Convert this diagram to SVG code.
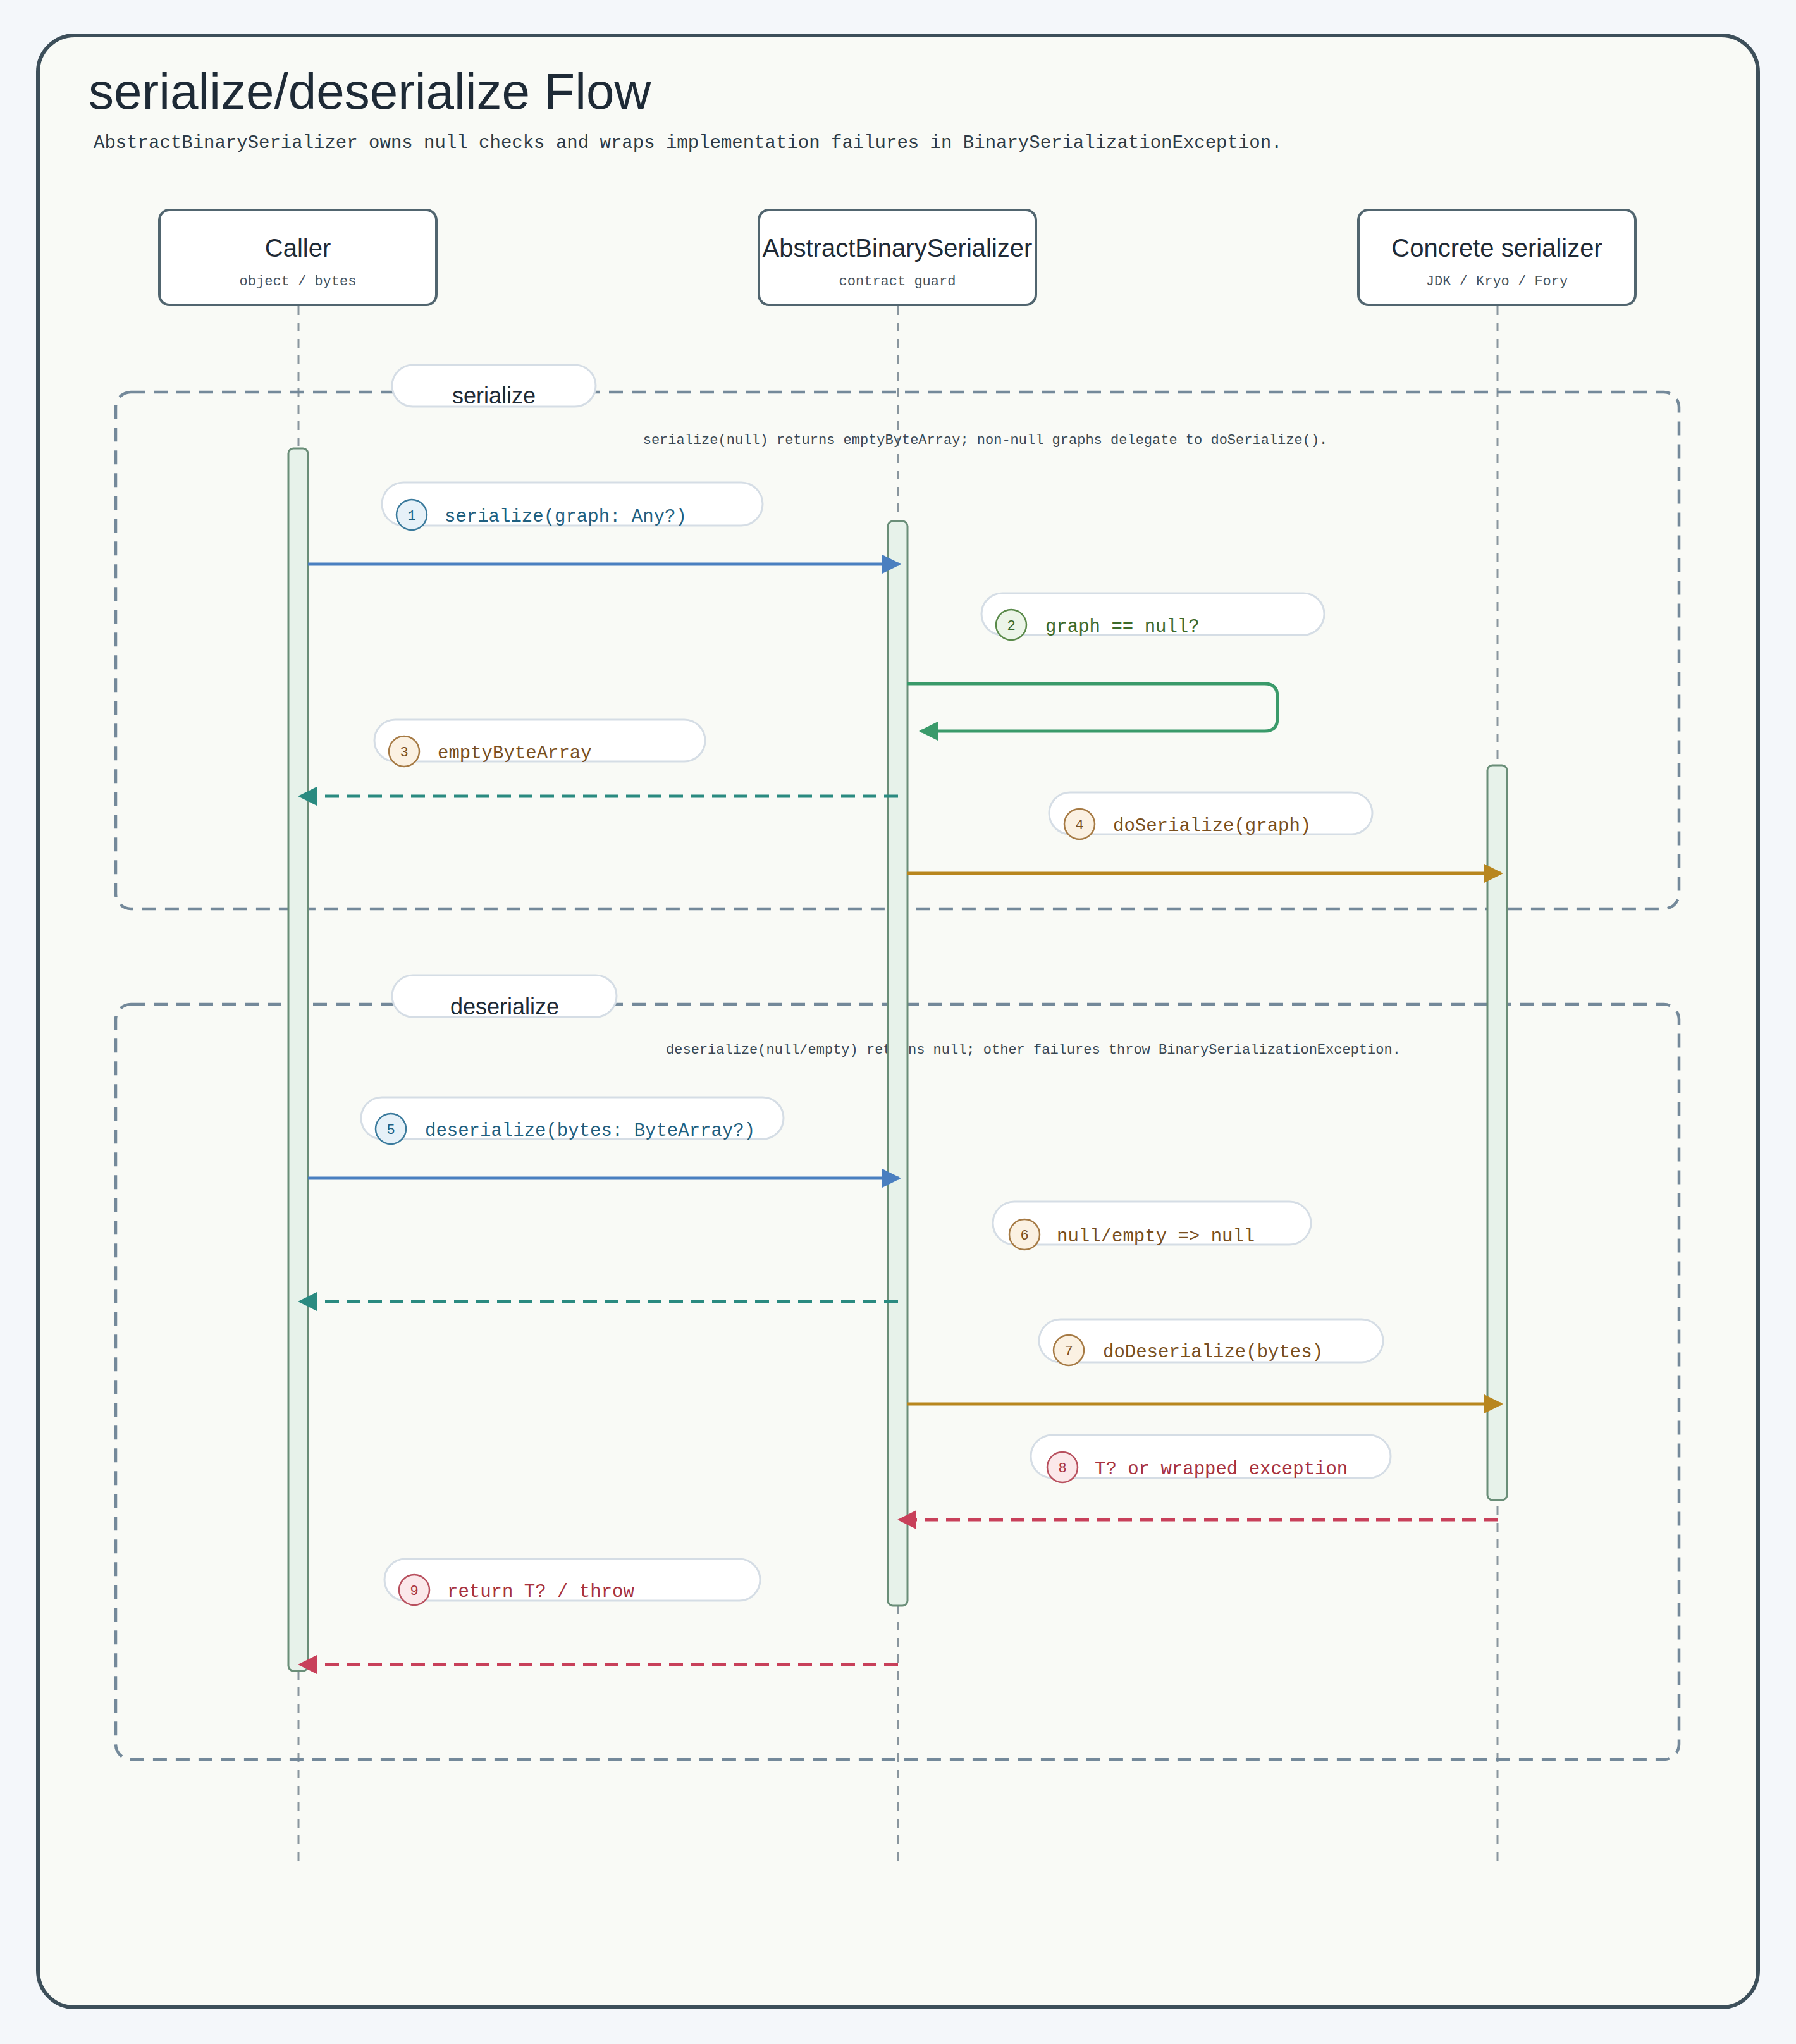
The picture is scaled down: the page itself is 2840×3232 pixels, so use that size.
<svg xmlns="http://www.w3.org/2000/svg" width="2840" height="3232" viewBox="0 0 2840 3232">
<style>
.t{font-family:"Liberation Sans",Arial,sans-serif;fill:#1e2a36}
.m{font-family:"Liberation Mono","DejaVu Sans Mono",monospace}
.box{fill:#fff;stroke:#51656f;stroke-width:4}
.life{stroke:#8a969e;stroke-width:3;stroke-dasharray:14 12}
.grp{fill:none;stroke:#74899a;stroke-width:4.5;stroke-dasharray:22 14}
.gpill{fill:#fff;stroke:#d5dde5;stroke-width:3}
.act{fill:#e7f2ea;stroke:#6a8e78;stroke-width:3}
.pill{fill:#fff;stroke:#d5dde5;stroke-width:3}
.lbl{font-size:29px}
.num{font-size:22px;text-anchor:middle}
.msg{fill:none;stroke-width:5}
.dash{stroke-dasharray:22 12}
</style>
<defs>
<marker id="ab" viewBox="0 0 10 10" refX="9" refY="5" markerWidth="6" markerHeight="6" markerUnits="strokeWidth" orient="auto"><path d="M0,0L10,5L0,10z" fill="#4a7fc0"/></marker>
<marker id="ag" viewBox="0 0 10 10" refX="9" refY="5" markerWidth="6" markerHeight="6" markerUnits="strokeWidth" orient="auto"><path d="M0,0L10,5L0,10z" fill="#3a9a6a"/></marker>
<marker id="at" viewBox="0 0 10 10" refX="9" refY="5" markerWidth="6" markerHeight="6" markerUnits="strokeWidth" orient="auto"><path d="M0,0L10,5L0,10z" fill="#2a8a80"/></marker>
<marker id="ao" viewBox="0 0 10 10" refX="9" refY="5" markerWidth="6" markerHeight="6" markerUnits="strokeWidth" orient="auto"><path d="M0,0L10,5L0,10z" fill="#b8861e"/></marker>
<marker id="ar" viewBox="0 0 10 10" refX="9" refY="5" markerWidth="6" markerHeight="6" markerUnits="strokeWidth" orient="auto"><path d="M0,0L10,5L0,10z" fill="#c8405a"/></marker>
</defs>
<rect width="2840" height="3232" fill="#f4f7fa"/>
<rect x="60" y="56" width="2720" height="3118" rx="58" fill="#f9faf6" stroke="#3d4f5a" stroke-width="6"/>
<text class="t" x="140" y="172" font-size="80">serialize/deserialize Flow</text>
<text class="m" x="148" y="234" font-size="29" fill="#2e3b46">AbstractBinarySerializer owns null checks and wraps implementation failures in BinarySerializationException.</text>

<g id="lifelines">
<line class="life" x1="472" y1="484" x2="472" y2="2952"/>
<line class="life" x1="1420" y1="484" x2="1420" y2="2952"/>
<line class="life" x1="2368" y1="484" x2="2368" y2="2952"/>
</g>

<g id="participant-caller">
<rect class="box" x="252" y="332" width="438" height="150" rx="16"/>
<text class="t" x="471" y="406" font-size="40" text-anchor="middle">Caller</text>
<text class="m" x="471" y="451" font-size="22" fill="#46545f" text-anchor="middle">object / bytes</text>
</g>
<g id="participant-abstract">
<rect class="box" x="1200" y="332" width="438" height="150" rx="16"/>
<text class="t" x="1419" y="406" font-size="40" text-anchor="middle">AbstractBinarySerializer</text>
<text class="m" x="1419" y="451" font-size="22" fill="#46545f" text-anchor="middle">contract guard</text>
</g>
<g id="participant-concrete">
<rect class="box" x="2148" y="332" width="438" height="150" rx="16"/>
<text class="t" x="2367" y="406" font-size="40" text-anchor="middle">Concrete serializer</text>
<text class="m" x="2367" y="451" font-size="22" fill="#46545f" text-anchor="middle">JDK / Kryo / Fory</text>
</g>

<g id="group-serialize">
<rect class="grp" x="183" y="620" width="2472" height="817" rx="24"/>
<rect class="gpill" x="620" y="577" width="322" height="66" rx="33"/>
<text class="t" x="781" y="638" font-size="36" text-anchor="middle">serialize</text>
<text class="m" x="1558" y="702" font-size="22" fill="#3a4853" text-anchor="middle">serialize(null) returns emptyByteArray; non-null graphs delegate to doSerialize().</text>
</g>
<g id="group-deserialize">
<rect class="grp" x="183" y="1588" width="2472" height="1194" rx="24"/>
<rect class="gpill" x="620" y="1542" width="355" height="66" rx="33"/>
<text class="t" x="798" y="1604" font-size="36" text-anchor="middle">deserialize</text>
<text class="m" x="1634" y="1666" font-size="22" fill="#3a4853" text-anchor="middle">deserialize(null/empty) returns null; other failures throw BinarySerializationException.</text>
</g>

<g id="activations">
<rect class="act" x="456" y="709" width="31" height="1933" rx="8"/>
<rect class="act" x="1404" y="824" width="31" height="1715" rx="8"/>
<rect class="act" x="2352" y="1210" width="31" height="1162" rx="8"/>
</g>

<g id="connectors">
<line class="msg" stroke="#4a7fc0" x1="487" y1="892" x2="1422" y2="892" marker-end="url(#ab)"/>
<path class="msg" stroke="#3a9a6a" d="M1435,1081H2000Q2020,1081 2020,1101V1136Q2020,1156 2000,1156H1456" marker-end="url(#ag)"/>
<line class="msg dash" stroke="#2a8a80" x1="1420" y1="1259" x2="474" y2="1259" marker-end="url(#at)"/>
<line class="msg" stroke="#b8861e" x1="1435" y1="1381" x2="2374" y2="1381" marker-end="url(#ao)"/>
<line class="msg" stroke="#4a7fc0" x1="487" y1="1863" x2="1422" y2="1863" marker-end="url(#ab)"/>
<line class="msg dash" stroke="#2a8a80" x1="1420" y1="2058" x2="474" y2="2058" marker-end="url(#at)"/>
<line class="msg" stroke="#b8861e" x1="1435" y1="2220" x2="2374" y2="2220" marker-end="url(#ao)"/>
<line class="msg dash" stroke="#c8405a" x1="2368" y1="2403" x2="1422" y2="2403" marker-end="url(#ar)"/>
<line class="msg dash" stroke="#c8405a" x1="1420" y1="2632" x2="474" y2="2632" marker-end="url(#ar)"/>
</g>

<g id="label-1">
<rect class="pill" x="604" y="763" width="602" height="68" rx="34"/>
<circle cx="651" cy="814" r="24" fill="#e6f1f8" stroke="#3a7a9c" stroke-width="2.5"/>
<text class="m num" x="651" y="822" fill="#1f5f80">1</text>
<text class="m lbl" x="703" y="825" fill="#1f5f80">serialize(graph: Any?)</text>
</g>
<g id="label-2">
<rect class="pill" x="1552" y="938" width="542" height="66" rx="33"/>
<circle cx="1599" cy="988" r="24" fill="#ecf5e8" stroke="#5a8a4a" stroke-width="2.5"/>
<text class="m num" x="1599" y="996" fill="#3d6a2a">2</text>
<text class="m lbl" x="1653" y="999" fill="#3d6a2a">graph == null?</text>
</g>
<g id="label-3">
<rect class="pill" x="592" y="1138" width="523" height="66" rx="33"/>
<circle cx="639" cy="1188" r="24" fill="#fbf1e2" stroke="#a67a44" stroke-width="2.5"/>
<text class="m num" x="639" y="1196" fill="#7a4f1e">3</text>
<text class="m lbl" x="692" y="1199" fill="#7a4f1e">emptyByteArray</text>
</g>
<g id="label-4">
<rect class="pill" x="1659" y="1253" width="511" height="66" rx="33"/>
<circle cx="1707" cy="1303" r="24" fill="#fbf1e2" stroke="#a67a44" stroke-width="2.5"/>
<text class="m num" x="1707" y="1311" fill="#7a4f1e">4</text>
<text class="m lbl" x="1760" y="1314" fill="#7a4f1e">doSerialize(graph)</text>
</g>
<g id="label-5">
<rect class="pill" x="571" y="1735" width="668" height="66" rx="33"/>
<circle cx="618" cy="1785" r="24" fill="#e6f1f8" stroke="#3a7a9c" stroke-width="2.5"/>
<text class="m num" x="618" y="1793" fill="#1f5f80">5</text>
<text class="m lbl" x="672" y="1796" fill="#1f5f80">deserialize(bytes: ByteArray?)</text>
</g>
<g id="label-6">
<rect class="pill" x="1570" y="1900" width="503" height="68" rx="34"/>
<circle cx="1620" cy="1952" r="24" fill="#fbf1e2" stroke="#a67a44" stroke-width="2.5"/>
<text class="m num" x="1620" y="1960" fill="#7a4f1e">6</text>
<text class="m lbl" x="1671" y="1963" fill="#7a4f1e">null/empty =&gt; null</text>
</g>
<g id="label-7">
<rect class="pill" x="1643" y="2086" width="544" height="68" rx="34"/>
<circle cx="1690" cy="2135" r="24" fill="#fbf1e2" stroke="#a67a44" stroke-width="2.5"/>
<text class="m num" x="1690" y="2143" fill="#7a4f1e">7</text>
<text class="m lbl" x="1744" y="2146" fill="#7a4f1e">doDeserialize(bytes)</text>
</g>
<g id="label-8">
<rect class="pill" x="1630" y="2269" width="569" height="68" rx="34"/>
<circle cx="1680" cy="2320" r="24" fill="#fbe8ea" stroke="#b8505e" stroke-width="2.5"/>
<text class="m num" x="1680" y="2328" fill="#a8323e">8</text>
<text class="m lbl" x="1731" y="2331" fill="#a8323e">T? or wrapped exception</text>
</g>
<g id="label-9">
<rect class="pill" x="608" y="2465" width="594" height="66" rx="33"/>
<circle cx="655" cy="2514" r="24" fill="#fbe8ea" stroke="#b8505e" stroke-width="2.5"/>
<text class="m num" x="655" y="2522" fill="#a8323e">9</text>
<text class="m lbl" x="707" y="2525" fill="#a8323e">return T? / throw</text>
</g>
</svg>
